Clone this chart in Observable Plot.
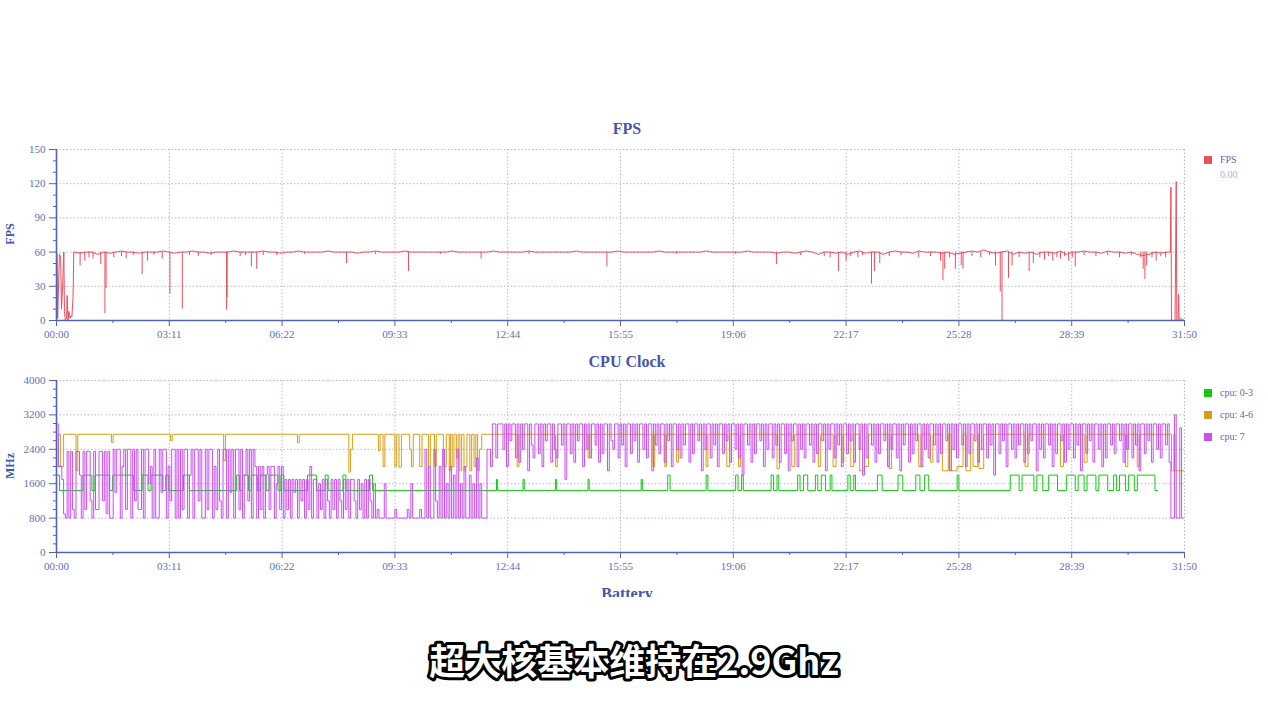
<!DOCTYPE html>
<html><head><meta charset="utf-8">
<script src="https://cdn.jsdelivr.net/npm/d3@7"></script>
<script src="https://cdn.jsdelivr.net/npm/@observablehq/plot@0.6"></script>
<style>
body{margin:0;background:#fff;}
#root{position:relative;width:1268px;height:714px;overflow:hidden;background:#fff;font-family:"Liberation Serif",serif;}
.abs{position:absolute;}
.title{font-weight:bold;font-size:16px;color:#4656a8;transform:translateX(-50%);white-space:nowrap;line-height:16px;}
.ylab{font-weight:bold;font-size:12px;color:#4656a8;transform:translate(-50%,-50%) rotate(-90deg);white-space:nowrap;line-height:12px;}
.leg{font-size:10px;color:#5b69b0;white-space:nowrap;line-height:10px;}
.sw{width:8px;height:8px;}
</style>
</head><body>
<div id="root"></div>
<script>
// ---------- DATA ----------
const xTickSec = [0,191,382,573,764,955,1146,1337,1528,1719,1910];
const xTickLabels = ["00:00","03:11","06:22","09:33","12:44","15:55","19:06","22:17","25:28","28:39","31:50"];
const fpsTicks = [0,30,60,90,120,150];
const cpuTicks = [0,800,1600,2400,3200,4000];

// FPS: start segment
const fpsStartT = [0,1,2,3.4,5,7,8.5,10,12.4,13.5,15,17,18,19.5,21,23,24.5,26,28,29.3];
const fpsStartV = [60,58,2,30,58,56,10,25,60,8,0,2,22,0,8,2,4,3,20,60];
// FPS: steady part, one sample every 10 s from 30 s to 1880 s
const fpsSteady = [
60,59,60,60,58,60,59,60,61,60, 60,59,60,60,60,61,60,59,60,60,
61,60,60,59,60,60,60,61,60,60, 60,60,61,60,60,59,60,60,61,60,
60,60,60,61,60,60,60,60,59,60, 60,61,60,60,60,60,61,60,60,60,
60,60,60,60,61,60,60,60,60,60, 60,61,60,60,60,60,60,61,60,60,
60,60,60,60,60,61,60,60,60,60, 60,60,61,60,60,60,60,60,60,61,
60,60,60,60,60,60,60,61,60,60, 60,60,60,60,61,60,60,60,60,59,
60,60,59,60,61,60,58,60,60,59, 60,58,60,61,59,60,60,58,60,61,
60,60,59,61,60,60,60,59,60,58, 59,60,61,60,62,60,59,60,61,58,
60,59,60,58,60,60,59,61,58,60, 60,61,60,60,59,61,60,60,59,60,
58,57,58,60,59,60];
// FPS: end segment
const fpsEndT = [1886,1887,1888,1894,1896,1897,1899,1900,1901,1904,1907,1910];
const fpsEndV = [60,117,0,0,122,0,0,23,0,2,0,1];
// FPS: short drops
const fpsDipT = [40,48,55,62,75,82,84,97,110,118,130,145,154,165,179,192,213,225,240,262,288,289,311,320,330,339,350,373,420,491,540,596,650,719,800,932,1050,1150,1219,1260,1300,1310,1324,1337,1345,1357,1365,1380,1385,1394,1410,1430,1460,1480,1497,1501,1504,1512,1522,1532,1535,1550,1565,1580,1590,1598,1601,1612,1618,1630,1647,1654,1665,1673,1680,1687,1694,1700,1707,1714,1720,1725,1740,1760,1780,1800,1820,1836,1840,1843,1846,1855,1862,1870,1878];
const fpsDipV = [48,52,55,54,49,6,28,55,56,54,57,40,52,57,54,23,10,57,56,57,9,20,56,57,47,45,57,57,58,50,58,43,58,54,58,47,58,58,49,57,56,55,43,52,56,55,57,32,43,50,56,57,55,56,52,35,45,55,45,48,45,56,55,57,48,25,0,37,48,55,43,50,55,53,56,52,55,54,56,52,55,47,57,56,57,55,57,55,45,36,48,55,52,56,55];

// CPU cluster 0-3: change points (seconds, MHz)
const cpu03T = [0,5,45,60,65,90,95,130,145,155,160,180,185,190,215,225,305,310,315,325,330,340,345,355,360,375,380,385,425,440,455,460,485,490,530,535,745,747,790,792,845,847,900,902,990,992,1035,1039,1100,1103,1150,1154,1160,1163,1210,1214,1220,1223,1255,1259,1265,1272,1285,1289,1295,1302,1310,1313,1340,1344,1350,1353,1390,1398,1425,1433,1455,1462,1470,1477,1525,1528,1615,1630,1635,1655,1660,1670,1680,1695,1710,1725,1730,1740,1745,1760,1765,1780,1790,1795,1800,1810,1815,1825,1830,1860,1865,1885,1910];
const cpu03V = [1800,1440,1800,1440,1800,1440,1800,1440,1800,1440,1800,1440,1800,1440,1800,1440,1800,1440,1800,1440,1800,1440,1800,1440,1800,1440,1800,1440,1800,1440,1800,1440,1800,1440,1800,1440,1700,1440,1700,1440,1700,1440,1700,1440,1700,1440,1800,1440,1800,1440,1800,1440,1800,1440,1800,1440,1800,1440,1800,1440,1800,1440,1800,1440,1800,1440,1800,1440,1800,1440,1800,1440,1800,1440,1800,1440,1800,1440,1800,1440,1800,1440,1800,1440,1800,1440,1800,1440,1800,1440,1800,1440,1800,1440,1800,1440,1800,1440,1800,1440,1800,1440,1800,1440,1800,1440,1440];

// CPU cluster 4-6: change points (seconds, MHz)
const cpu46T = [0,3,7,12,33,36,93,96,193,196,283,286,408,411,495,498,501,545,548,553,556,573,576,580,584,598,601,604,615,619,630,633,640,643,655,660,665,667,670,673,677,680,683,686,690,692,695,700,703,707,710,713,716,720,780,783,845,848,900,903,1010,1013,1030,1033,1050,1053,1100,1103,1135,1140,1155,1158,1220,1224,1245,1250,1290,1294,1315,1320,1330,1333,1345,1350,1360,1368,1375,1410,1414,1460,1464,1480,1484,1500,1510,1515,1525,1535,1540,1548,1552,1560,1562,1570,1640,1645,1700,1705,1740,1745,1810,1814,1830,1834,1888,1892,1894,1910];
const cpu46V = [2000,2750,2000,2750,1900,2750,2560,2750,2600,2750,2140,2750,2560,2750,1870,2400,2750,2370,2750,2000,2750,2000,2750,1985,2750,2400,2000,2750,2000,2750,2000,2750,2000,2750,2000,2750,1900,2750,2000,2750,2200,2750,1900,2750,1900,2000,2750,1900,2750,2000,2750,1900,2400,2750,2000,2750,2000,2750,2200,2750,2000,2750,2000,2750,2100,2750,2000,2750,2000,2750,2000,2750,1950,2750,2000,2750,2000,2750,2000,2750,2100,2750,2000,2750,1900,2000,2750,1950,2750,2000,2750,2100,2750,1900,2750,1900,2000,2750,1900,2750,2000,2750,1950,2750,2000,2750,2000,2750,2100,2750,2000,2750,2000,2750,1900,2750,1900,1900];

// CPU 7: one sample every 3 s (one row = 60 s)
const cpu7 = [
2990,2000,2000,1700,900,800,2350,800,2350,1000,800,2350,2350,1800,800,2350,1000,2350,2350,1200,
800,2350,1000,1000,2350,2350,1200,2350,900,2350,800,800,2400,1400,2400,2400,800,2000,2400,1000,
2400,2400,800,2400,1200,2400,1000,1000,2400,800,2400,2400,1600,2000,800,2400,800,800,2400,1400,
2400,2400,800,2000,1200,2400,2400,800,2400,800,2400,1000,2400,2400,800,1800,2400,800,2400,2400,
1200,2400,800,800,2400,1000,2400,2400,800,2000,1000,2400,1200,800,2400,2400,800,2400,1400,2400,
800,2400,2400,1000,2400,800,1800,2400,1200,2400,800,2400,2000,800,2000,1000,2000,800,1800,2000,
1000,2000,2000,800,1600,2000,1000,2000,800,1700,1000,1700,800,1700,1400,1700,800,1700,1200,1700,
800,1700,1000,2000,800,1700,1700,800,1600,1000,1700,800,1700,1200,800,1700,1000,1700,800,1700,
1200,800,1700,1000,1700,800,1700,1700,1200,800,1700,1000,1600,800,1700,800,1700,1200,800,1600,
800,1000,800,800,800,1600,800,800,800,800,800,1000,800,800,800,800,800,800,1000,800,
1600,800,800,800,800,1000,800,800,2400,800,2000,800,800,2400,1200,800,2000,800,2400,800,
1600,800,2000,800,1800,800,2400,800,1600,800,2000,800,800,1800,800,1600,800,2200,800,1600,
800,800,800,2400,2400,2000,2990,2990,2200,2990,2990,2990,2400,2990,2000,2990,2600,2990,2990,2200,
2990,2100,2990,2400,2990,2990,1900,2990,2500,2200,2990,2990,2300,2990,2000,2990,2600,2990,2990,2100,
2990,2400,2200,2990,2990,2500,2990,1700,2990,2990,2300,2990,2100,2990,2600,2990,2990,2000,2990,2400,
2990,2200,2990,2990,2500,2990,2100,2990,2300,2990,2990,1900,2990,2600,2400,2990,2990,2200,2990,2500,
2990,2000,2990,2990,2300,2990,2600,2990,2100,2990,2990,2400,2990,2200,2990,2990,1900,2990,2500,2990,
2300,2990,2990,2100,2990,2600,2990,2000,2990,2990,2400,2990,2200,2990,2500,2990,2990,2100,2990,2300,
2990,2990,2600,2990,1900,2990,2400,2990,2990,2200,2990,2500,2990,2000,2990,2990,2300,2990,2600,2990,
2100,2990,2990,2400,2990,2200,2990,1800,2990,2990,2500,2990,2100,2990,2300,2990,2990,2600,2990,2000,
2990,2400,2990,2990,2200,2990,2500,2990,2100,2990,2990,2300,2990,1900,2990,2600,2990,2990,2000,2990,
2400,2990,2200,2990,2990,2500,2990,2100,2990,2300,2990,2990,2600,2990,1900,2990,2400,2990,2990,2200,
2990,2500,2990,2000,2990,2990,2300,2990,2600,2990,2100,2990,2990,2400,2990,1800,2990,2200,2990,2990,
2500,2990,2100,2990,2300,2990,2990,2600,2990,2000,2990,2400,2990,2990,2200,2990,1900,2990,2500,2990,
2990,2100,2990,2300,2990,2600,2990,2990,2000,2990,2400,2990,2200,2990,2990,2500,2990,2100,2990,2300,
2990,2990,2600,2990,1900,2990,2400,2990,2200,2990,2990,2500,2990,2000,2990,2300,2990,2990,2600,2990,
2100,2990,2400,2990,2990,2200,2990,2500,2990,1800,2990,2990,2300,2990,2600,2990,2000,2990,2990,2400,
2990,2200,2990,2500,2990,2990,2100,2990,2300,2990,2600,2990,2990,1900,2990,2400,2990,2200,2990,2990,
2500,2990,2000,2990,2300,2990,2990,2600,2990,2100,2990,2400,2990,2990,2200,2990,2500,2990,1900,2990,
2990,2300,2990,2600,2990,2100,2990,2990,2400,2990,2000,2990,2200,2990,2990,2500,2990,2300,2990,2990,
2600,2990,2100,2990,2400,2990,2990,2200,2990,2500,2990,1900,2990,2990,2300,2990,2600,2990,2100,2990,
2990,2400,2990,2200,2990,2990,2500,2990,2100,800,800,3200,800,800,2900,800,800];

// ---------- STYLE ----------
const C_FPS = "#e8505d", C03 = "#14c814", C46 = "#d69e16", C7 = "#c94ff0";
const AXIS = "#5262b4", GRID = "#b2b7e6", TXT = "#6170b4";

const fpsLine = [
  ...fpsStartT.map((t, i) => ({t, v: fpsStartV[i]})),
  ...fpsSteady.map((v, i) => ({t: 30 + 10 * i, v})),
  ...fpsEndT.map((t, i) => ({t, v: fpsEndV[i]}))
];
const fpsDips = fpsDipT.map((t, i) => ({t, v: fpsDipV[i]}));
const s03 = cpu03T.map((t, i) => ({t, v: cpu03V[i]}));
const s46 = cpu46T.map((t, i) => ({t, v: cpu46V[i]}));
const s7 = cpu7.map((v, i) => ({t: i * 3, v}));

const minorX = d3.pairs(xTickSec).map(([a, b]) => (a + b) / 2);
const labelOf = d => xTickLabels[xTickSec.indexOf(d)];

function frame(yTicks, yMinor) {
  return [
    Plot.ruleX(xTickSec.slice(1), {stroke: GRID, strokeDasharray: "1.5,2"}),
    Plot.ruleY(yTicks.slice(1), {stroke: GRID, strokeDasharray: "1.5,2"}),
    Plot.axisY({ticks: yTicks, tickFormat: d => String(d), tickSize: 7, tickPadding: 4, label: null, stroke: AXIS, fill: TXT}),
    Plot.axisY({ticks: yMinor, tickSize: 3, tickFormat: () => "", label: null, stroke: AXIS}),
    Plot.axisX({ticks: xTickSec, tickFormat: labelOf, tickSize: 6, tickPadding: 4, label: null, stroke: AXIS, fill: TXT}),
    Plot.axisX({ticks: minorX, tickSize: 3, tickFormat: () => "", label: null, stroke: AXIS})
  ];
}
const axisLines = [
  Plot.ruleY([0], {stroke: AXIS, strokeWidth: 1.6}),
  Plot.ruleX([0], {stroke: AXIS, strokeWidth: 1.6})
];
const style = {fontFamily: "Liberation Serif", fontSize: "11px", background: "transparent", overflow: "visible"};

const fpsMinor = d3.range(0, 151, 10).filter(d => d % 30);
const cpuMinor = d3.range(0, 4001, 200).filter(d => d % 800);

const fpsChart = Plot.plot({
  width: 1268, height: 205, marginLeft: 56, marginRight: 84, marginTop: 9, marginBottom: 25,
  x: {domain: [0, 1910]}, y: {domain: [0, 150]}, style,
  marks: [
    ...frame(fpsTicks, fpsMinor),
    Plot.ruleX(fpsDips, {x: "t", y1: 60, y2: "v", stroke: C_FPS, strokeWidth: 1, clip: true}),
    Plot.lineY(fpsLine, {x: "t", y: "v", stroke: C_FPS, strokeWidth: 1, clip: true}),
    ...axisLines
  ]
});

const cpuChart = Plot.plot({
  width: 1268, height: 205, marginLeft: 56, marginRight: 84, marginTop: 8, marginBottom: 25,
  x: {domain: [0, 1910]}, y: {domain: [0, 4000]}, style,
  marks: [
    ...frame(cpuTicks, cpuMinor),
    Plot.lineY(s03, {x: "t", y: "v", stroke: C03, strokeWidth: 1, curve: "step-after", clip: true}),
    Plot.lineY(s46, {x: "t", y: "v", stroke: C46, strokeWidth: 1, curve: "step-after", clip: true}),
    Plot.lineY(s7, {x: "t", y: "v", stroke: C7, strokeWidth: 1, curve: "step-after", clip: true}),
    ...axisLines
  ]
});

// ---------- LAYOUT ----------
const root = document.getElementById("root");
function place(el, left, top) { el.classList.add("abs"); el.style.left = left + "px"; el.style.top = top + "px"; root.appendChild(el); return el; }
function div(cls, text, left, top, extra) {
  const d = document.createElement("div"); d.className = cls; d.textContent = text;
  if (extra) Object.assign(d.style, extra);
  return place(d, left, top);
}
place(fpsChart, 0, 140);
place(cpuChart, 0, 372);

div("title", "FPS", 627, 121);
div("title", "CPU Clock", 627, 354);
div("ylab", "FPS", 10, 234);
div("ylab", "MHz", 10, 466);

// Battery title (cut off at the bottom, as in the source)
const bat = document.createElement("div");
bat.style.overflow = "hidden"; bat.style.width = "200px"; bat.style.height = "11px";
const bt = document.createElement("div"); bt.className = "title"; bt.textContent = "Battery";
bt.style.position = "absolute"; bt.style.left = "100px"; bt.style.top = "0px";
bat.appendChild(bt);
place(bat, 527, 586);

// Legends
function legend(color, label, top) {
  div("sw", "", 1204, top - 4, {background: color});
  div("leg", label, 1220, top - 5);
}
legend(C_FPS, "FPS", 160);
div("leg", "0.00", 1220, 170, {color: "#aab3de"});
legend(C03, "cpu: 0-3", 393);
legend(C46, "cpu: 4-6", 415);
legend(C7, "cpu: 7", 437);

// Caption
const NS = "http://www.w3.org/2000/svg";
const cap = document.createElementNS(NS, "svg");
cap.setAttribute("width", 1268); cap.setAttribute("height", 70);
const ct = document.createElementNS(NS, "text");
ct.setAttribute("x", 634); ct.setAttribute("y", 47); ct.setAttribute("text-anchor", "middle");
ct.setAttribute("font-family", "Noto Sans CJK SC"); ct.setAttribute("font-weight", "700");
ct.setAttribute("font-size", "36"); ct.setAttribute("fill", "#ffffff");
ct.setAttribute("stroke", "#000000"); ct.setAttribute("stroke-width", "6");
ct.setAttribute("stroke-linejoin", "round"); ct.setAttribute("paint-order", "stroke");
ct.textContent = "超大核基本维持在2.9Ghz";
cap.appendChild(ct);
place(cap, 0, 628);
</script>
</body></html>
